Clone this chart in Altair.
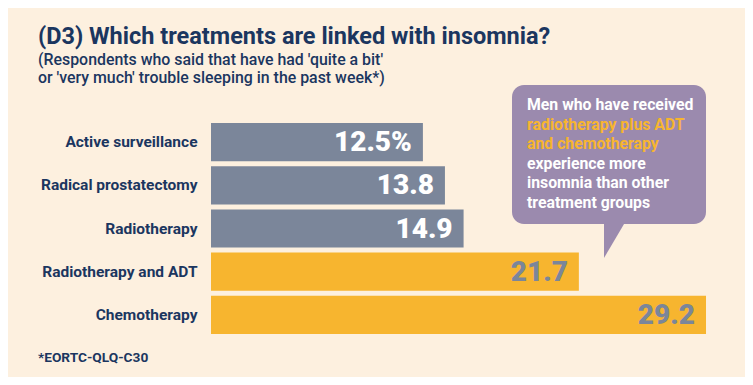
import altair as alt
import pandas as pd

categories = ["Active surveillance", "Radical prostatectomy", "Radiotherapy",
              "Radiotherapy and ADT", "Chemotherapy"]
values = [12.5, 13.8, 14.9, 21.7, 29.2]
value_labels = ["12.5%", "13.8", "14.9", "21.7", "29.2"]
groups = ["other", "other", "other", "highlight", "highlight"]

title_text = "(D3) Which treatments are linked with insomnia?"
subtitle_lines = ["(Respondents who said that have had 'quite a bit'",
                  "or 'very much' trouble sleeping in the past week*)"]
footnote = "*EORTC-QLQ-C30"
callout_lines = ["Men who have received", "radiotherapy plus ADT", "and chemotherapy",
                 "experience more", "insomnia than other", "treatment groups"]
callout_kinds = ["white", "orange", "orange", "white", "white", "white"]

BG = "#FDF0DF"
NAVY = "#1B365F"
GRAY = "#7B869A"
ORANGE = "#F7B52F"
PURPLE = "#9B8AAE"

df = pd.DataFrame({"category": categories, "value": values,
                   "label": value_labels, "group": groups})
one = pd.DataFrame({"a": [0]})

y = alt.Y("category:N", sort=categories,
          scale=alt.Scale(paddingInner=0.116, paddingOuter=0.058),
          axis=alt.Axis(title=None, domain=False, ticks=False, labelFont="Roboto",
                        labelFontWeight="bold", labelFontSize=15.5, labelColor=NAVY,
                        labelPadding=14, labelLimit=300))
x = alt.X("value:Q", scale=alt.Scale(domain=[0, 31.5]), axis=None)

bars = alt.Chart(df).mark_bar().encode(
    x=x, y=y,
    color=alt.Color("group:N", scale=alt.Scale(domain=["other", "highlight"],
                                               range=[GRAY, ORANGE]), legend=None))

labels = alt.Chart(df).mark_text(align="right", baseline="middle", dx=-11, dy=1,
                                 font="Roboto", fontWeight=900, fontSize=28).encode(
    x=x, y=y, text="label:N",
    color=alt.condition(alt.datum.group == "other", alt.value("white"), alt.value(GRAY)))

box = alt.Chart(one).mark_rect(color=PURPLE, cornerRadius=12).encode(
    x=alt.value(301), x2=alt.value(495), y=alt.value(-35.5), y2=alt.value(103.5))

pointer = alt.Chart(one).mark_point(shape="M0 -0.1 L1.24 -0.1 L0 2 Z", size=1156,
                                    filled=True, opacity=1, color=PURPLE, strokeWidth=0).encode(
    x=alt.value(393), y=alt.value(103.5))

callout_layers = []
for i, (line, kind) in enumerate(zip(callout_lines, callout_kinds)):
    callout_layers.append(
        alt.Chart(one).mark_text(align="left", baseline="alphabetic", font="Roboto",
                                 fontWeight="bold", fontSize=15.8,
                                 color="white" if kind == "white" else ORANGE).encode(
            x=alt.value(316), y=alt.value(-10.5 + 19.6 * i), text=alt.value(line)))

foot = alt.Chart(one).mark_text(align="left", baseline="alphabetic", font="Roboto",
                                fontWeight="bold", fontSize=13.7, color=NAVY).encode(
    x=alt.value(-173), y=alt.value(241.5), text=alt.value(footnote))

chart = alt.layer(bars, labels, box, pointer, *callout_layers, foot).properties(
    width=534, height=216,
    padding={"left": 203, "top": 112.5, "right": 0, "bottom": 40.5},
    autosize=alt.AutoSizeParams(type="none"),
    background=BG,
    title=alt.TitleParams(text=title_text, subtitle=subtitle_lines, anchor="start",
                          frame="group", dx=-173, offset=-1, font="Roboto", fontSize=23.5,
                          fontWeight="bold", color=NAVY, subtitleFont="Roboto",
                          subtitleFontSize=15.9, subtitleFontWeight=500,
                          subtitleColor=NAVY, subtitleLineHeight=18, subtitlePadding=4),
).configure_view(stroke=None)

chart.save("out.html", embed_options={"renderer": "svg", "actions": False})
